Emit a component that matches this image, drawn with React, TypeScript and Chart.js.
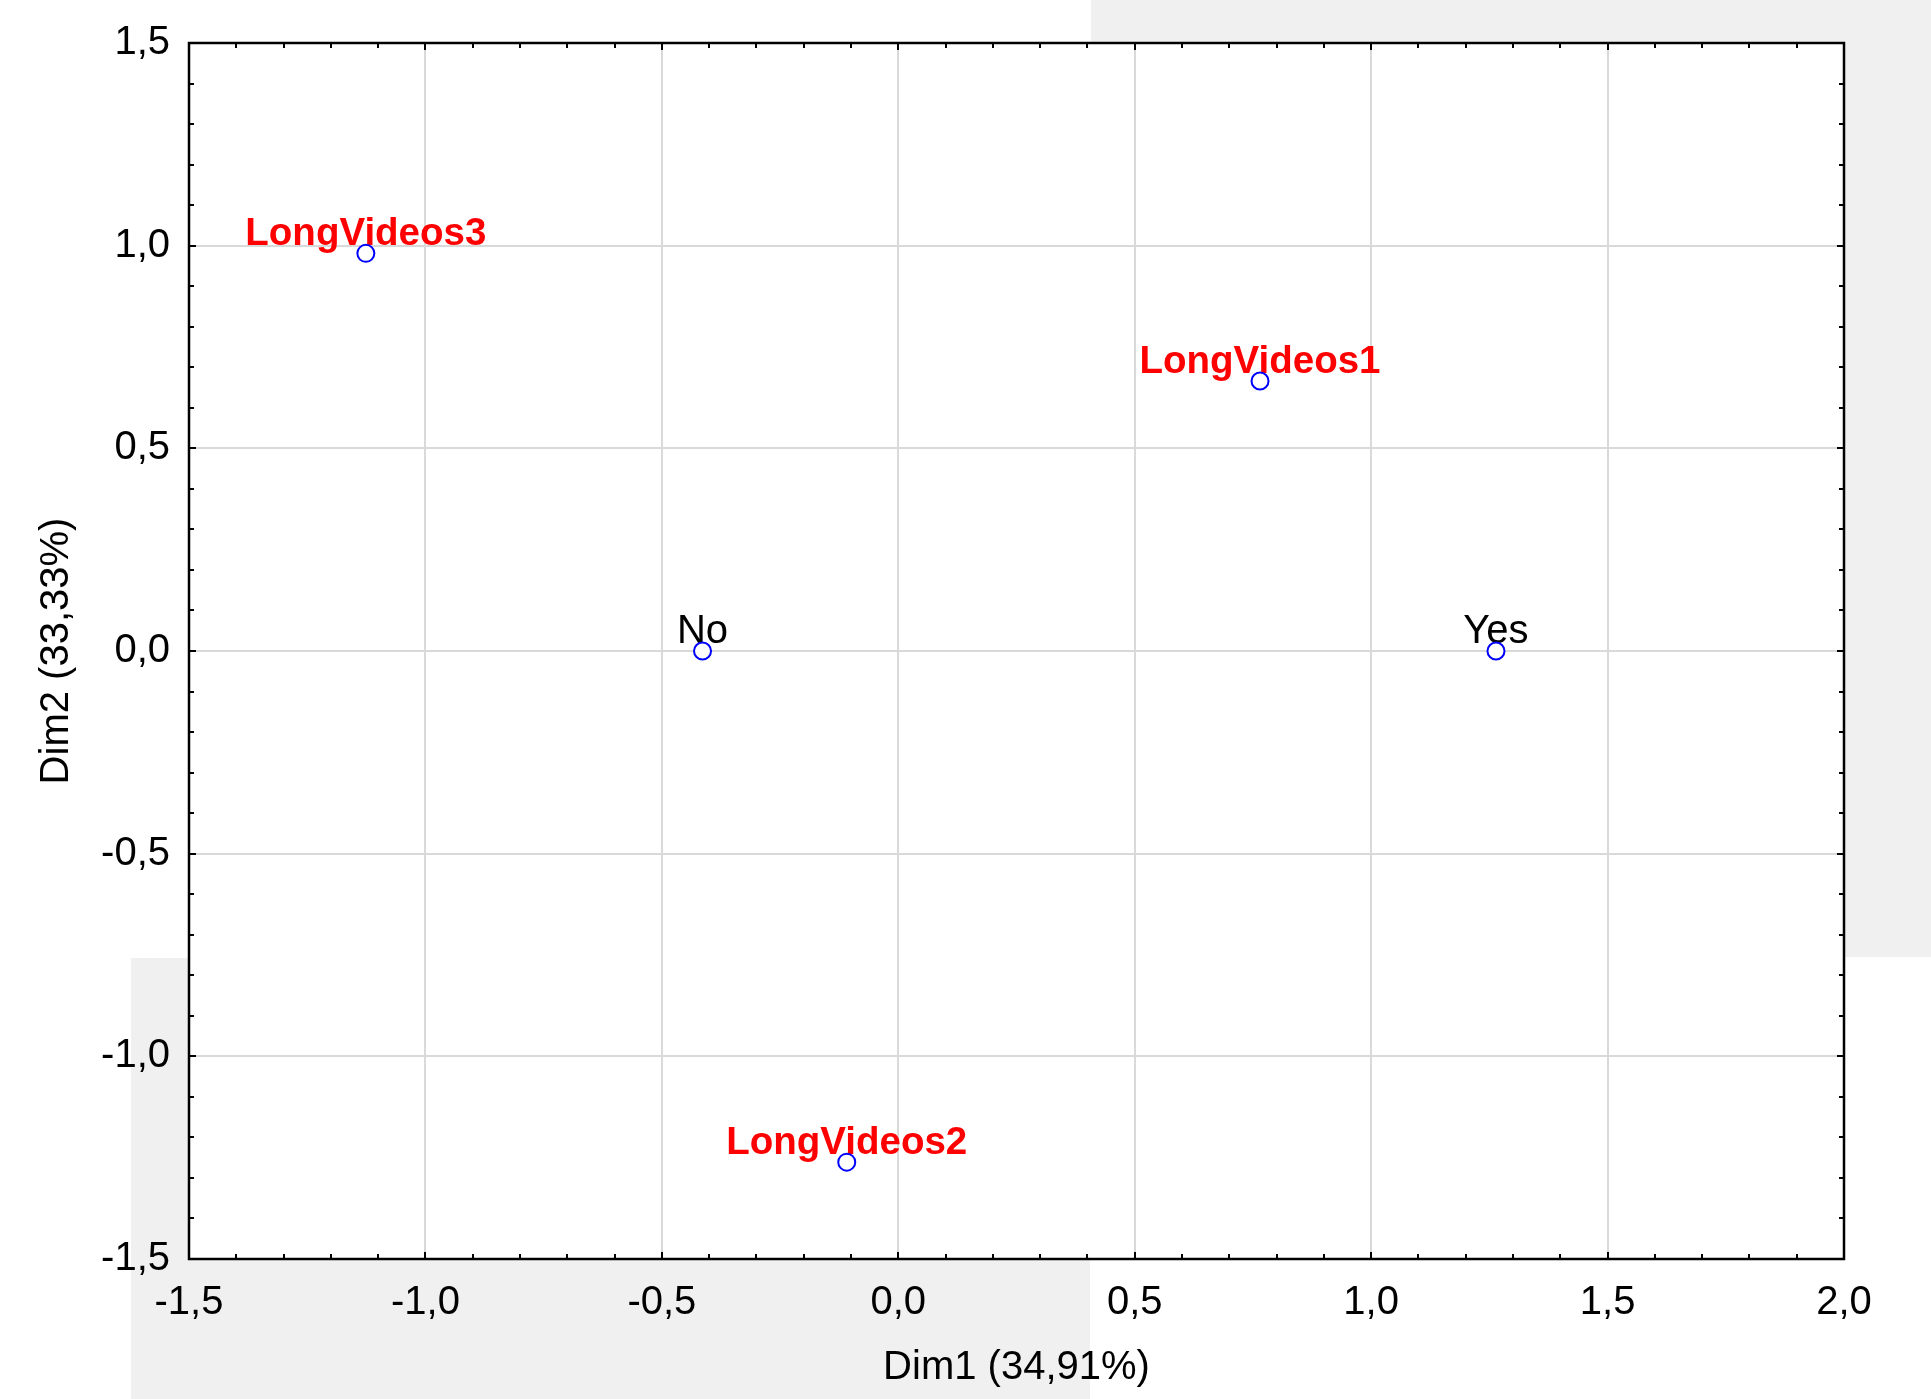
import React, { useEffect, useRef } from 'react';
import { Chart, registerables } from 'chart.js';

Chart.register(...registerables);

// ---- data ----
const pointNames = ['LongVideos1', 'LongVideos2', 'LongVideos3', 'No', 'Yes'];
const dim1Values = [0.765, -0.109, -1.126, -0.414, 1.264];
const dim2Values = [0.666, -1.261, 0.981, 0.0, 0.0];
const labelColors = ['#ff0000', '#ff0000', '#ff0000', '#000000', '#000000'];
const labelBold = [true, true, true, false, false];
const xTitle = 'Dim1 (34,91%)';
const yTitle = 'Dim2 (33,33%)';
const xRange = [-1.5, 2.0];
const yRange = [-1.5, 1.5];
const minorStep = 0.1;
const majorStep = 0.5;

const FONT = "'Liberation Sans', Arial, Helvetica, sans-serif";

const isMajor = (v: number) => Math.abs(v / majorStep - Math.round(v / majorStep)) < 1e-6;
const fmt = (v: number) => {
  if (!isMajor(v)) return '';
  const r = Math.round(v * 10) / 10;
  return (r === 0 ? 0 : r).toFixed(1).replace('.', ',');
};

const framePlugin = {
  id: 'framePlugin',
  beforeDraw(chart: any) {
    const { ctx, chartArea: a } = chart;
    ctx.save();
    ctx.fillStyle = '#ffffff';
    ctx.fillRect(a.left, a.top, a.right - a.left, a.bottom - a.top);
    ctx.restore();
  },
  beforeDatasetsDraw(chart: any) {
    const { ctx } = chart;
    const meta = chart.getDatasetMeta(0);
    ctx.save();
    ctx.textAlign = 'center';
    ctx.textBaseline = 'alphabetic';
    meta.data.forEach((el: any, i: number) => {
      ctx.font = labelBold[i] ? `bold 38.5px ${FONT}` : `40px ${FONT}`;
      ctx.fillStyle = labelColors[i];
      ctx.fillText(pointNames[i], el.x, el.y - 8.5);
    });
    ctx.restore();
  },
  afterDraw(chart: any) {
    const { ctx, chartArea: a, scales } = chart;
    ctx.save();
    ctx.strokeStyle = '#000000';
    ctx.lineWidth = 2;
    ctx.beginPath();
    scales.x.ticks.forEach((t: any) => {
      const px = Math.round(scales.x.getPixelForValue(t.value));
      const len = isMajor(t.value) ? 7 : 5;
      ctx.moveTo(px, a.bottom);
      ctx.lineTo(px, a.bottom - len);
      ctx.moveTo(px, a.top);
      ctx.lineTo(px, a.top + len);
    });
    scales.y.ticks.forEach((t: any) => {
      const py = Math.round(scales.y.getPixelForValue(t.value));
      const len = isMajor(t.value) ? 7 : 5;
      ctx.moveTo(a.left, py);
      ctx.lineTo(a.left + len, py);
      ctx.moveTo(a.right, py);
      ctx.lineTo(a.right - len, py);
    });
    ctx.stroke();
    ctx.lineWidth = 2.5;
    ctx.strokeRect(a.left, a.top, a.right - a.left, a.bottom - a.top);
    ctx.restore();
  },
};

export default function App() {
  const canvasRef = useRef<HTMLCanvasElement | null>(null);

  useEffect(() => {
    if (!canvasRef.current) return;
    const gridColor = (c: any) =>
      c.tick && isMajor(c.tick.value) ? '#d9d9d9' : 'rgba(0,0,0,0)';
    const chart = new Chart(canvasRef.current, {
      type: 'scatter',
      data: {
        datasets: [
          {
            label: 'points',
            data: dim1Values.map((x, i) => ({ x, y: dim2Values[i] })),
            pointRadius: 8.5,
            pointHoverRadius: 8.5,
            pointBorderWidth: 2,
            pointBorderColor: '#0000ff',
            pointBackgroundColor: '#ffffff',
            showLine: false,
          },
        ],
      },
      options: {
        animation: false,
        responsive: false,
        devicePixelRatio: 1,
        layout: { padding: { left: 0, top: 43, right: 87, bottom: 0 } },
        plugins: { legend: { display: false }, tooltip: { enabled: false } },
        events: [],
        scales: {
          x: {
            type: 'linear',
            position: 'bottom',
            min: xRange[0],
            max: xRange[1],
            ticks: {
              stepSize: minorStep,
              autoSkip: false,
              maxRotation: 0,
              minRotation: 0,
              padding: 20,
              color: '#000000',
              font: { family: FONT, size: 40 },
              callback: (v: any) => fmt(Number(v)),
            },
            grid: { color: gridColor, lineWidth: 2, drawTicks: false },
            border: { display: false },
            title: {
              display: true,
              text: xTitle,
              color: '#000000',
              font: { family: FONT, size: 40 },
              padding: { top: 0, bottom: 7 },
            },
            afterFit: (s: any) => {
              s.height = 140;
            },
          },
          y: {
            type: 'linear',
            position: 'left',
            min: yRange[0],
            max: yRange[1],
            ticks: {
              stepSize: minorStep,
              autoSkip: false,
              padding: 19,
              color: '#000000',
              font: { family: FONT, size: 40 },
              callback: (v: any) => fmt(Number(v)),
            },
            grid: { color: gridColor, lineWidth: 2, drawTicks: false },
            border: { display: false },
            title: {
              display: true,
              text: yTitle,
              color: '#000000',
              font: { family: FONT, size: 40 },
              padding: { top: 33, bottom: 0 },
            },
            afterFit: (s: any) => {
              s.width = 189;
            },
          },
        },
      } as any,
      plugins: [framePlugin],
    });
    return () => chart.destroy();
  }, []);

  return (
    <div
      style={{
        position: 'absolute',
        left: 0,
        top: 0,
        width: 1931,
        height: 1399,
        background: '#ffffff',
        overflow: 'hidden',
      }}
    >
      <div style={{ position: 'absolute', left: 1091, top: 0, width: 840, height: 957, background: '#f0f0f0' }} />
      <div style={{ position: 'absolute', left: 131, top: 958, width: 959, height: 441, background: '#f0f0f0' }} />
      <canvas
        ref={canvasRef}
        width={1931}
        height={1399}
        style={{ position: 'absolute', left: 0, top: 0, width: 1931, height: 1399 }}
      />
    </div>
  );
}
